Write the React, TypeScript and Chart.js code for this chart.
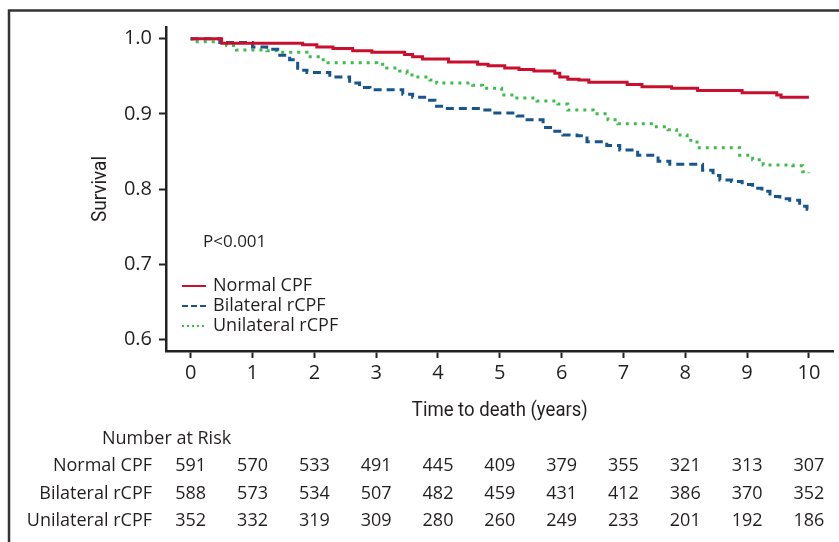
import React, { useEffect, useRef } from "react";
import { Chart, registerables } from "chart.js";

Chart.register(...registerables);

// ---- Data ----
const normalTime = [0, 0.5, 1.81, 2.04, 2.3, 2.62, 2.93, 3.46, 3.59, 3.75, 4.17, 4.64, 4.81, 5.08, 5.31, 5.55, 5.89, 5.97, 6.1, 6.28, 6.44, 7.06, 7.3, 7.78, 8.2, 8.92, 9.48, 9.55, 10];
const normalSurv = [1.0, 0.994, 0.992, 0.989, 0.987, 0.984, 0.982, 0.979, 0.976, 0.973, 0.969, 0.966, 0.964, 0.961, 0.959, 0.957, 0.954, 0.949, 0.946, 0.945, 0.942, 0.939, 0.936, 0.934, 0.931, 0.928, 0.925, 0.922, 0.922];

const bilateralTime = [0, 0.47, 1.0, 1.23, 1.44, 1.6, 1.73, 1.88, 2.25, 2.57, 2.73, 2.9, 3.43, 3.59, 3.82, 3.95, 4.11, 4.72, 4.87, 5.28, 5.4, 5.7, 5.86, 6.02, 6.25, 6.41, 6.73, 6.94, 7.23, 7.56, 7.75, 8.28, 8.45, 8.56, 8.75, 8.92, 9.09, 9.24, 9.37, 9.53, 9.69, 9.85, 9.97, 10];
const bilateralSurv = [1.0, 0.995, 0.989, 0.986, 0.978, 0.972, 0.958, 0.955, 0.949, 0.941, 0.935, 0.932, 0.926, 0.922, 0.918, 0.91, 0.907, 0.905, 0.901, 0.897, 0.892, 0.882, 0.877, 0.872, 0.871, 0.863, 0.858, 0.852, 0.845, 0.837, 0.833, 0.825, 0.818, 0.812, 0.81, 0.806, 0.801, 0.797, 0.79, 0.787, 0.785, 0.777, 0.773, 0.773];

const unilateralTime = [0, 0.02, 0.58, 0.74, 1.23, 1.39, 1.88, 2.09, 2.22, 3.01, 3.17, 3.38, 3.5, 3.58, 3.87, 3.98, 4.56, 4.72, 5.03, 5.24, 5.6, 5.94, 6.1, 6.51, 6.75, 6.91, 7.48, 7.72, 7.86, 8.03, 8.19, 8.88, 9.09, 9.26, 9.74, 9.9, 10];
const unilateralSurv = [1.0, 0.996, 0.991, 0.985, 0.984, 0.982, 0.976, 0.972, 0.968, 0.966, 0.961, 0.957, 0.954, 0.949, 0.945, 0.941, 0.938, 0.934, 0.925, 0.921, 0.917, 0.913, 0.905, 0.9, 0.892, 0.887, 0.883, 0.879, 0.872, 0.865, 0.855, 0.845, 0.839, 0.832, 0.831, 0.823, 0.821];

const xTicks = [0, 1, 2, 3, 4, 5, 6, 7, 8, 9, 10];
const yTicks = [0.6, 0.7, 0.8, 0.9, 1.0];

const seriesNames = ["Normal CPF", "Bilateral rCPF", "Unilateral rCPF"];
const riskNormal = [591, 570, 533, 491, 445, 409, 379, 355, 321, 313, 307];
const riskBilateral = [588, 573, 534, 507, 482, 459, 431, 412, 386, 370, 352];
const riskUnilateral = [352, 332, 319, 309, 280, 260, 249, 233, 201, 192, 186];

const pValueText = "P<0.001";
const xTitle = "Time to death (years)";
const yTitle = "Survival";
const riskTitle = "Number at Risk";

// ---- Styles ----
const RED = "#c8102e";
const BLUE = "#17558c";
const GREEN = "#3dbb4c";
const INK = "#231f20";
const SANS = '"Open Sans", "Noto Sans", sans-serif';
const NARROW = 'Roboto, "Noto Sans", sans-serif';

const W = 839;
const H = 542;

function pts(t: number[], s: number[]) {
  return t.map((v, i) => ({ x: v, y: s[i] }));
}

function condensedText(ctx: CanvasRenderingContext2D, text: string, x: number, y: number, targetWidth: number) {
  const w = ctx.measureText(text).width;
  const k = w > 0 ? targetWidth / w : 1;
  ctx.save();
  ctx.translate(x, y);
  ctx.scale(k, 1);
  ctx.textAlign = "center";
  ctx.textBaseline = "middle";
  ctx.fillText(text, 0, 0);
  ctx.restore();
}

const overlay = {
  id: "overlay",
  afterDraw(chart: any) {
    const ctx = chart.ctx as CanvasRenderingContext2D;
    const xs = chart.scales.x;
    ctx.save();

    // outer frame (top + left edges visible)
    ctx.strokeStyle = "#333";
    ctx.lineWidth = 2.5;
    ctx.beginPath();
    ctx.moveTo(9, H);
    ctx.lineTo(9, 10.5);
    ctx.lineTo(W, 10.5);
    ctx.stroke();

    ctx.fillStyle = INK;

    // y title
    ctx.save();
    ctx.translate(101, 189);
    ctx.rotate(-Math.PI / 2);
    ctx.font = `20px ${NARROW}`;
    condensedText(ctx, yTitle, 0, 0, 66);
    ctx.restore();

    // x title
    ctx.font = `20px ${NARROW}`;
    condensedText(ctx, xTitle, xs.getPixelForValue(5), 411, 176);

    // p-value
    ctx.font = `17px ${SANS}`;
    ctx.textAlign = "left";
    ctx.textBaseline = "middle";
    ctx.fillText(pValueText, 203, 242);

    // legend
    const colors = [RED, BLUE, GREEN];
    const dashes = [[], [6, 3], [2, 3]];
    const legY = [286, 306, 326];
    ctx.font = `18px ${SANS}`;
    for (let i = 0; i < 3; i++) {
      ctx.save();
      ctx.strokeStyle = colors[i];
      ctx.lineWidth = 2;
      ctx.setLineDash(dashes[i]);
      ctx.beginPath();
      ctx.moveTo(182, legY[i]);
      ctx.lineTo(206, legY[i]);
      ctx.stroke();
      ctx.restore();
      ctx.fillStyle = INK;
      ctx.textAlign = "left";
      ctx.fillText(seriesNames[i], 213, legY[i]);
    }

    // risk table
    ctx.font = `18px ${SANS}`;
    ctx.textAlign = "left";
    ctx.fillText(riskTitle, 102, 439);
    const rows = [riskNormal, riskBilateral, riskUnilateral];
    const rowY = [466, 494, 521];
    for (let r = 0; r < 3; r++) {
      ctx.textAlign = "right";
      ctx.fillText(seriesNames[r], 152, rowY[r]);
      ctx.textAlign = "center";
      rows[r].forEach((n, i) => {
        ctx.fillText(String(n), xs.getPixelForValue(xTicks[i]), rowY[r]);
      });
    }
    ctx.restore();
  },
};

export default function App() {
  const ref = useRef<HTMLCanvasElement | null>(null);

  useEffect(() => {
    if (!ref.current) return;
    const chart = new Chart(ref.current, {
      type: "line",
      data: {
        datasets: [
          {
            label: seriesNames[0],
            data: pts(normalTime, normalSurv),
            borderColor: RED,
            borderWidth: 3,
            stepped: "before",
            pointRadius: 0,
            fill: false,
          },
          {
            label: seriesNames[1],
            data: pts(bilateralTime, bilateralSurv),
            borderColor: BLUE,
            borderWidth: 3,
            borderDash: [8, 5],
            stepped: "before",
            pointRadius: 0,
            fill: false,
          },
          {
            label: seriesNames[2],
            data: pts(unilateralTime, unilateralSurv),
            borderColor: GREEN,
            borderWidth: 3,
            borderDash: [3, 5],
            stepped: "before",
            pointRadius: 0,
            fill: false,
          },
        ],
      },
      options: {
        animation: false,
        responsive: false,
        devicePixelRatio: 1,
        layout: { padding: { left: 0, right: 6, top: 27, bottom: 0 } },
        plugins: {
          legend: { display: false },
          tooltip: { enabled: false },
          title: { display: false },
        },
        scales: {
          x: {
            type: "linear",
            min: -0.4,
            max: 10.39,
            afterFit: (s: any) => {
              s.height = 191;
            },
            afterBuildTicks: (s: any) => {
              s.ticks = xTicks.map((v) => ({ value: v }));
            },
            border: { display: true, color: "#222", width: 2.5 },
            grid: {
              display: true,
              drawOnChartArea: false,
              drawTicks: true,
              tickLength: 7,
              tickWidth: 2,
              tickColor: "#222",
            },
            ticks: {
              color: INK,
              font: { family: SANS, size: 20 },
              padding: 3,
              maxRotation: 0,
              autoSkip: false,
              callback: (v: any) => String(v),
            },
          },
          y: {
            type: "linear",
            min: 0.5844,
            max: 1.0156,
            afterFit: (s: any) => {
              s.width = 166;
            },
            afterBuildTicks: (s: any) => {
              s.ticks = yTicks.map((v) => ({ value: v }));
            },
            border: { display: true, color: "#222", width: 2.5 },
            grid: {
              display: true,
              drawOnChartArea: false,
              drawTicks: true,
              tickLength: 7,
              tickWidth: 2,
              tickColor: "#222",
            },
            ticks: {
              color: INK,
              font: { family: SANS, size: 20 },
              padding: 7,
              autoSkip: false,
              callback: (v: any) => Number(v).toFixed(1),
            },
          },
        },
      },
      plugins: [overlay],
    });
    return () => chart.destroy();
  }, []);

  return (
    <div style={{ position: "fixed", left: 0, top: 0, width: W, height: H, background: "#fff" }}>
      <canvas ref={ref} width={W} height={H} style={{ display: "block", width: W, height: H }} />
    </div>
  );
}
